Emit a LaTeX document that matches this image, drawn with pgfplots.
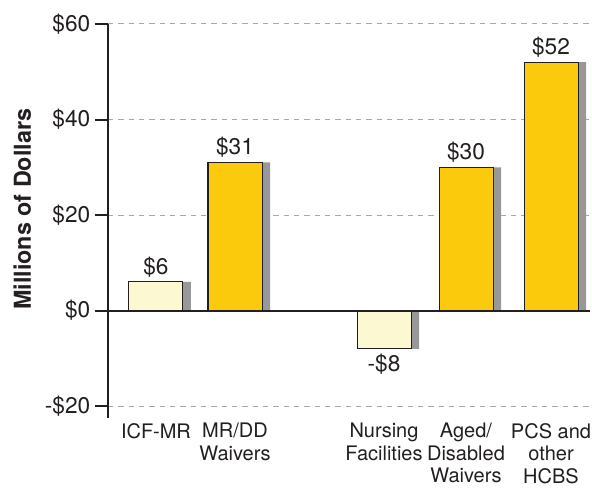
\documentclass[border=0pt]{standalone}
\usepackage{fontspec}
\setmainfont{TeX Gyre Heros}
\usepackage{pgfplots}
\pgfplotsset{compat=1.18}
\definecolor{gold}{HTML}{FCCA0C}
\definecolor{pale}{HTML}{FCF8D2}
\definecolor{shadow}{HTML}{98989A}
\definecolor{gridgray}{HTML}{A8A8A8}
\definecolor{txt}{HTML}{231F20}
\begin{document}
\begin{tikzpicture}
\begin{axis}[
  scale only axis, width=361.5pt, height=295.5pt,
  xmin=0, xmax=482, ymin=-22.5, ymax=60,
  axis lines*=left,
  x axis line style={draw=none},
  y axis line style={line width=1.5pt, txt},
  ytick={-20,0,20,40,60},
  yticklabels={-\$20,\$0,\$20,\$40,\$60},
  xtick={48,127,276,358,443},
  xticklabels={ICF-MR, MR/DD\\Waivers, Nursing\\Facilities, Aged/\\Disabled\\Waivers, PCS and\\other\\HCBS},
  xticklabel style={align=center, anchor=north, inner sep=0pt, yshift=6pt, font=\fontsize{15}{16.9}\selectfont, text=txt},
  yticklabel style={font=\fontsize{17}{20}\selectfont, text=txt},
  x tick style={draw=none},
  y tick style={line width=1.5pt, txt},
  tick align=outside, major tick length=9.75pt,
  ymajorgrids,
  grid style={gridgray, dash pattern=on 4pt off 3.75pt, line width=0.75pt},
  ylabel={\bfseries Millions of Dollars},
  ylabel style={at={(axis description cs:-0.178,0.53)}, anchor=center, font=\fontsize{17.5}{20}\selectfont, text=txt},
  nodes near coords style={font=\fontsize{17}{20}\selectfont, text=txt},
  clip=false,
]
\addplot[ybar, bar width=54, fill=shadow, draw=none, forget plot]
  coordinates {(56,6) (135,31) (284,-8) (366,30) (451,52)};
\addplot[ybar, bar width=54, fill=pale, draw=txt, line width=0.75pt,
  nodes near coords, point meta=explicit symbolic, forget plot]
  coordinates {(48,6) [\$6]};
\addplot[ybar, bar width=54, fill=pale, draw=txt, line width=0.75pt,
  nodes near coords, nodes near coords align={below}, point meta=explicit symbolic, forget plot]
  coordinates {(276,-8) [-\$8]};
\addplot[ybar, bar width=54, fill=gold, draw=txt, line width=0.75pt,
  nodes near coords, point meta=explicit symbolic]
  coordinates {(127,31) [\$31] (358,30) [\$30] (443,52) [\$52]};
\draw[line width=1.5pt, txt] (axis cs:0,0) -- (axis cs:482,0);
\end{axis}
\path (current axis.south west) ++(-81pt,-51.75pt) rectangle ++(444pt,365.25pt);
\end{tikzpicture}
\end{document}
